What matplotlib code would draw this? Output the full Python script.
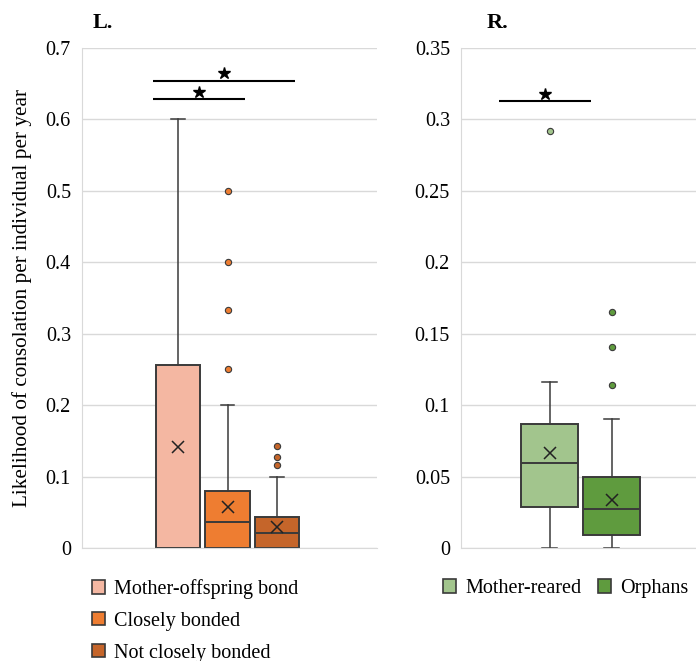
import matplotlib
matplotlib.use("Agg")
import matplotlib.pyplot as plt
from matplotlib.patches import Patch

plt.rcParams["font.family"] = ["Liberation Serif", "DejaVu Serif"]

# Left panel: consolation by relationship type
left_labels = ["Mother-offspring bond", "Closely bonded", "Not closely bonded"]
left_colors = ["#F4B7A2", "#EE7D31", "#C5652A"]
left_q1 = [0.0, 0.0, 0.0]
left_med = [0.0, 0.036, 0.0206]
left_q3 = [0.256, 0.080, 0.044]
left_whislo = [0.0, 0.0, 0.0]
left_whishi = [0.60, 0.20, 0.10]
left_mean = [0.142, 0.058, 0.029]
left_fliers = [[], [0.5, 0.4, 0.333, 0.25], [0.143, 0.1275, 0.1167]]

# Right panel: mother-reared vs orphans
right_labels = ["Mother-reared", "Orphans"]
right_colors = ["#A2C58D", "#5F9B3E"]
right_q1 = [0.0288, 0.0091]
right_med = [0.0594, 0.0276]
right_q3 = [0.087, 0.050]
right_whislo = [0.0, 0.0]
right_whishi = [0.116, 0.0905]
right_mean = [0.0668, 0.0334]
right_fliers = [[0.2917], [0.165, 0.141, 0.114]]

EDGE = "#3a3a3a"
GRID = "#d9d9d9"
FS = 14.5


def make_stats(q1, med, q3, lo, hi, mean, fliers):
    return [dict(q1=a, med=b, q3=c, whislo=d, whishi=e, mean=f, fliers=g)
            for a, b, c, d, e, f, g in zip(q1, med, q3, lo, hi, mean, fliers)]


def draw_boxes(ax, stats, colors, width, capw):
    for i, (st, col) in enumerate(zip(stats, colors)):
        ax.bxp([st], positions=[i + 1], widths=width, patch_artist=True,
               showmeans=True, showfliers=True, capwidths=capw,
               boxprops=dict(facecolor=col, edgecolor=EDGE, linewidth=1.4),
               medianprops=dict(color=EDGE, linewidth=1.4),
               whiskerprops=dict(color=EDGE, linewidth=1.1),
               capprops=dict(color=EDGE, linewidth=1.1),
               meanprops=dict(marker="x", markeredgecolor="#222222",
                              markersize=8, markeredgewidth=1.1),
               flierprops=dict(marker="o", markerfacecolor=col,
                               markeredgecolor=EDGE, markersize=4.5,
                               markeredgewidth=0.8))


def style_axis(ax):
    ax.grid(axis="y", color=GRID, linewidth=1.0)
    ax.set_axisbelow(True)
    for s in ["top", "right"]:
        ax.spines[s].set_visible(False)
    ax.spines["left"].set_color(GRID)
    ax.spines["bottom"].set_color(GRID)
    ax.tick_params(length=0, labelsize=FS, pad=8)
    ax.set_xticks([])


def sig_bar(ax, x0, x1, y, ystar):
    ax.plot([x0, x1], [y, y], color="black", lw=1.5, solid_capstyle="butt")
    ax.plot([(x0 + x1) / 2], [ystar], marker="*", color="black",
            markersize=9, linestyle="none")


fig = plt.figure(figsize=(6.96, 6.61), dpi=100)
axL = fig.add_axes([82 / 696, 113 / 661, 295 / 696, 500 / 661])
axR = fig.add_axes([461 / 696, 113 / 661, 235 / 696, 500 / 661])

draw_boxes(axL, make_stats(left_q1, left_med, left_q3, left_whislo,
                           left_whishi, left_mean, left_fliers),
           left_colors, 0.89, 0.28)
axL.set_xlim(-0.94, 5.02)
axL.set_ylim(0, 0.7)
axL.set_yticks([0, 0.1, 0.2, 0.3, 0.4, 0.5, 0.6, 0.7])
axL.set_yticklabels(["0", "0.1", "0.2", "0.3", "0.4", "0.5", "0.6", "0.7"])
style_axis(axL)
axL.set_ylabel("Likelihood of consolation per individual per year",
               fontsize=15.3, labelpad=10)
sig_bar(axL, 0.5, 3.37, 0.654, 0.665)
sig_bar(axL, 0.5, 2.36, 0.629, 0.638)

draw_boxes(axR, make_stats(right_q1, right_med, right_q3, right_whislo,
                           right_whishi, right_mean, right_fliers),
           right_colors, 0.92, 0.24)
axR.set_xlim(-0.43, 3.36)
axR.set_ylim(0, 0.35)
axR.set_yticks([0, 0.05, 0.1, 0.15, 0.2, 0.25, 0.3, 0.35])
axR.set_yticklabels(["0", "0.05", "0.1", "0.15", "0.2", "0.25", "0.3", "0.35"])
style_axis(axR)
sig_bar(axR, 0.18, 1.66, 0.313, 0.318)

fig.text(93 / 696, 1 - 23 / 661, "L.", fontsize=16, fontweight="bold",
         va="center", ha="left")
fig.text(487 / 696, 1 - 23 / 661, "R.", fontsize=16, fontweight="bold",
         va="center", ha="left")

left_handles = [Patch(facecolor=c, edgecolor=EDGE, linewidth=1.2)
                for c in left_colors]
fig.legend(left_handles, left_labels, loc="upper left",
           bbox_to_anchor=(92 / 696, 1 - 579 / 661), frameon=False,
           fontsize=FS, borderpad=0, borderaxespad=0, handlelength=0.65,
           handleheight=0.65, handletextpad=0.45, labelspacing=0.64)

right_handles = [Patch(facecolor=c, edgecolor=EDGE, linewidth=1.2)
                 for c in right_colors]
fig.legend(right_handles, right_labels, loc="upper left", ncol=2,
           bbox_to_anchor=(443 / 696, 1 - 579 / 661), frameon=False,
           fontsize=FS, borderpad=0, borderaxespad=0, handlelength=0.65,
           handleheight=0.65, handletextpad=0.45, columnspacing=0.85)

fig.savefig("out.png", dpi=100)
